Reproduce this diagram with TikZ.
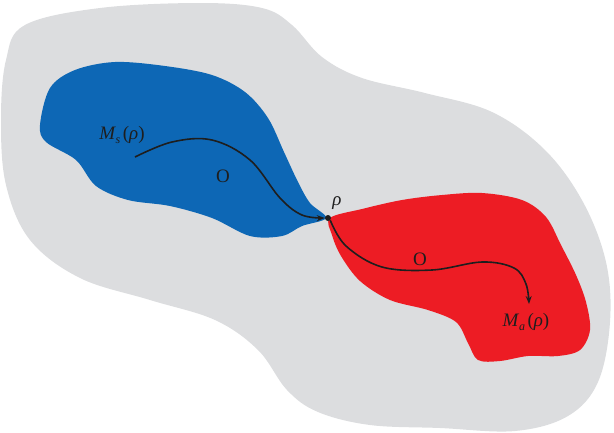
\documentclass[tikz,border=0pt]{standalone}
\usepackage{fontspec}
\setmainfont{Liberation Serif}
\usetikzlibrary{arrows.meta}
\definecolor{bggray}{RGB}{220,221,223}
\definecolor{regblue}{RGB}{13,103,181}
\definecolor{regred}{RGB}{237,28,36}
\definecolor{ink}{RGB}{30,30,30}
\newcommand{\subsc}[1]{\kern0.5pt\raisebox{-4pt}{\fontsize{12}{12}\selectfont\itshape #1}\kern2.5pt}
\tikzset{
  region/.style={draw=none},
  flow/.style={line width=1.6pt, draw=ink, -{Stealth[length=8pt,width=6pt]}},
  lbl/.style={text=ink, font=\fontsize{19}{22}\selectfont, inner sep=0pt},
  dot/.style={circle, fill=ink, inner sep=0pt, minimum size=6pt}
}
\begin{document}
\begin{tikzpicture}[x=1pt,y=-1pt]
\useasboundingbox (0,0) rectangle (614,432);
% gray background
\fill[bggray] plot[smooth cycle, tension=0.6] coordinates {
 (25,25) (100,8) (200,3) (262,8) (292,25) (322,57) (362,78) (425,93) (492,112) (545,150) (583,202) (606,262) (610,322) (598,382) (568,416) (515,431) (440,428) (370,425) (318,412) (287,390) (258,350) (215,320) (150,300) (80,278) (30,240) (6,185) (1,120) (6,60)};
% blue region
\fill[regblue] plot[smooth cycle, tension=0.55] coordinates {
 (40,125) (50,88) (75,70) (115,62) (165,66) (212,75) (245,92) (268,118) (284,152) (298,182) (310,203) (326,218) (302,226) (282,236) (250,236) (212,218) (170,206) (128,200) (96,186) (76,160) (46,142)};
% red region
\fill[regred] plot[smooth cycle, tension=0.55] coordinates {
 (330,218) (362,209) (402,200) (442,195) (482,193) (522,200) (546,217) (561,245) (576,275) (586,302) (590,330) (580,350) (558,356) (528,356) (500,361) (478,360) (468,343) (456,322) (428,310) (390,300) (360,281) (341,256) (332,235)};
% nodes
\node[dot] (p) at (328,218) {};
\coordinate (s) at (135,157);
\coordinate (a) at (529,304);
\node[lbl] (rl) at (337,203) {\itshape ρ};
\node[lbl] (ms) at (122,135) {\itshape M\subsc{s}\upshape(\itshape ρ\upshape)};
\node[lbl] (ma) at (526,322) {\itshape M\subsc{a}\upshape(\itshape ρ\upshape)};
\node[lbl] (o1) at (223,176) {O};
\node[lbl] (o2) at (420,259) {O};
% flows
\draw[flow] plot[smooth, tension=0.6] coordinates {(s) (172,142) (212,140) (250,160) (280,198) (302,215) (p.west)};
\draw[flow] plot[smooth, tension=0.6] coordinates {(p.south east) (346,246) (382,267) (432,270) (482,262) (514,268) (526,284) (a)};
\end{tikzpicture}
\end{document}
